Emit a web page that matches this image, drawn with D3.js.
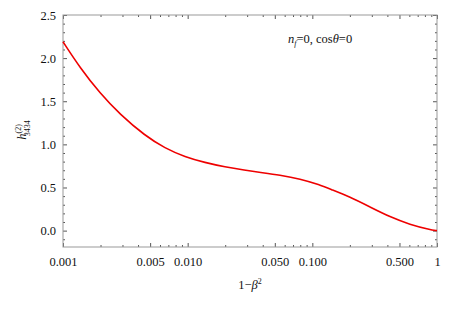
<!DOCTYPE html>
<html>
<head>
<meta charset="utf-8">
<script src="https://cdn.jsdelivr.net/npm/d3@7"></script>
<style>
  body { margin: 0; background: #fff; }
</style>
</head>
<body>
<div id="chart"></div>
<script>
// curve points (1-beta^2, h)
const oneMinusBeta2 = [0.001, 0.00137, 0.00198, 0.00286, 0.00455, 0.00658, 0.00953, 0.01377, 0.0199, 0.0288,
    0.038, 0.055, 0.0796, 0.115, 0.1387, 0.2006, 0.29, 0.42, 0.607, 0.879, 1]
const h3434 = [2.19, 1.888, 1.593, 1.349, 1.10, 0.955, 0.854, 0.789, 0.738, 0.70,
    0.675, 0.643, 0.60, 0.53, 0.482, 0.39, 0.274, 0.158, 0.07, 0.012, 0.0]

const xTickVals = [0.001, 0.005, 0.01, 0.05, 0.1, 0.5, 1]
const xTickLabels = ["0.001", "0.005", "0.010", "0.050", "0.100", "0.500", "1"]
const yTickVals = [0, 0.5, 1, 1.5, 2, 2.5]

const width = 454, height = 311
const margin = {left: 63, right: 17, top: 15, bottom: 64}
const serif = "'Liberation Serif', 'Times New Roman', serif"

const svg = d3.select("#chart").append("svg")
    .attr("width", width)
    .attr("height", height)
    .attr("font-family", serif)

const x = d3.scaleLog().domain([0.001, 1]).range([margin.left, width - margin.right])
const y = d3.scaleLinear().domain([-0.19, 2.5]).range([height - margin.bottom, margin.top])

// minor ticks
let xMinor = []
for (let e = -3; e < 0; e++) {
    for (let k = 1; k < 10; k++) xMinor.push(k * Math.pow(10, e))
}
xMinor = xMinor.filter(v => !xTickVals.some(t => Math.abs(t - v) < 1e-9))
let yMinor = d3.range(-1, 26).map(i => i / 10).filter(v => v >= -0.19 && Math.abs(v * 2 - Math.round(v * 2)) > 1e-6)

const tickColor = "#555"
const frameColor = "#999"

function styleAxis(g) {
    g.attr("font-family", serif)
    g.select(".domain").remove()
    g.selectAll("line").attr("stroke", tickColor)
    g.selectAll("text").attr("font-size", 12.5).attr("fill", "#111").attr("font-family", serif)
}

// bottom axis
svg.append("g")
    .attr("transform", "translate(0," + y.range()[0] + ")")
    .call(d3.axisBottom(x).tickValues(xTickVals).tickFormat((d, i) => xTickLabels[i]).tickSizeInner(-4).tickSizeOuter(0).tickPadding(10))
    .call(styleAxis)
svg.append("g")
    .attr("transform", "translate(0," + y.range()[0] + ")")
    .call(d3.axisBottom(x).tickValues(xMinor).tickFormat("").tickSizeInner(-2).tickSizeOuter(0))
    .call(styleAxis)

// top axis
svg.append("g")
    .attr("transform", "translate(0," + y.range()[1] + ")")
    .call(d3.axisTop(x).tickValues(xTickVals).tickFormat("").tickSizeInner(-4).tickSizeOuter(0))
    .call(styleAxis)
svg.append("g")
    .attr("transform", "translate(0," + y.range()[1] + ")")
    .call(d3.axisTop(x).tickValues(xMinor).tickFormat("").tickSizeInner(-2).tickSizeOuter(0))
    .call(styleAxis)

// left axis
svg.append("g")
    .attr("transform", "translate(" + x.range()[0] + ",0)")
    .call(d3.axisLeft(y).tickValues(yTickVals).tickFormat(d3.format(".1f")).tickSizeInner(-4).tickSizeOuter(0).tickPadding(7))
    .call(styleAxis)
svg.append("g")
    .attr("transform", "translate(" + x.range()[0] + ",0)")
    .call(d3.axisLeft(y).tickValues(yMinor).tickFormat("").tickSizeInner(-2).tickSizeOuter(0))
    .call(styleAxis)

// right axis
svg.append("g")
    .attr("transform", "translate(" + x.range()[1] + ",0)")
    .call(d3.axisRight(y).tickValues(yTickVals).tickFormat("").tickSizeInner(-4).tickSizeOuter(0))
    .call(styleAxis)
svg.append("g")
    .attr("transform", "translate(" + x.range()[1] + ",0)")
    .call(d3.axisRight(y).tickValues(yMinor).tickFormat("").tickSizeInner(-2).tickSizeOuter(0))
    .call(styleAxis)

// frame
svg.append("rect")
    .attr("x", x.range()[0])
    .attr("y", y.range()[1])
    .attr("width", x.range()[1] - x.range()[0])
    .attr("height", y.range()[0] - y.range()[1])
    .attr("fill", "none")
    .attr("stroke", frameColor)
    .attr("stroke-width", 1)

// the curve
const data = oneMinusBeta2.map((v, i) => ({x: v, y: h3434[i]}))
const line = d3.line()
    .x(d => x(d.x))
    .y(d => y(d.y))
    .curve(d3.curveBasis)
svg.append("path")
    .datum(data)
    .attr("d", line)
    .attr("fill", "none")
    .attr("stroke", "#ee0000")
    .attr("stroke-width", 1.6)

// x label
const xl = svg.append("text")
    .attr("x", 250)
    .attr("y", 289)
    .attr("text-anchor", "middle")
    .attr("font-size", 12.5)
    .attr("fill", "#111")
xl.append("tspan").text("1\u2212")
xl.append("tspan").attr("font-style", "italic").text("\u03b2")
xl.append("tspan").attr("font-size", 8).attr("dy", -5).text("2")

// y label
const yl = svg.append("text")
    .attr("transform", "translate(26,130) rotate(-90)")
    .attr("text-anchor", "middle")
    .attr("font-size", 12.5)
    .attr("fill", "#111")
yl.append("tspan").attr("font-style", "italic").text("h")
yl.append("tspan").attr("font-size", 8).attr("dy", -5).text("(2)")
yl.append("tspan").attr("font-size", 8).attr("dx", -12).attr("dy", 9).text("3434")

// annotation
const ann = svg.append("text")
    .attr("x", 288)
    .attr("y", 43)
    .attr("font-size", 12.5)
    .attr("fill", "#111")
ann.append("tspan").attr("font-style", "italic").text("n")
ann.append("tspan").attr("font-style", "italic").attr("font-size", 8).attr("dy", 3).text("f")
ann.append("tspan").attr("dy", -3).text("=0, cos")
ann.append("tspan").attr("font-style", "italic").text("\u03b8")
ann.append("tspan").text("=0")
</script>
</body>
</html>
